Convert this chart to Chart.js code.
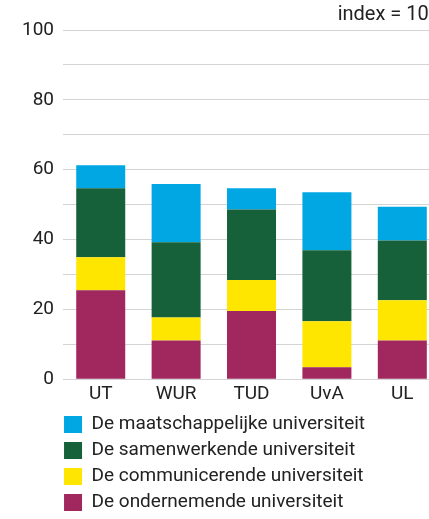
<!DOCTYPE html>
<html lang="nl">
<head>
  <meta charset="UTF-8" />
  <title>Universiteiten index</title>
  <script src="https://cdn.jsdelivr.net/npm/chart.js"></script>
  <style>
    html, body { margin: 0; padding: 0; background: #fff; overflow: hidden; }
    .wrap { width: 429px; height: 519px; overflow: hidden; }
    canvas { display: block; }
  </style>
</head>
<body>
  <div class="wrap">
    <canvas id="uniChart" width="440" height="522"></canvas>
  </div>

  <script>
    const universities = ["UT", "WUR", "TUD", "UvA", "UL"];
    const seriesNames = [
      "De ondernemende universiteit",
      "De communicerende universiteit",
      "De samenwerkende universiteit",
      "De maatschappelijke universiteit"
    ];
    const ondernemend = [25.5, 11.1, 19.5, 3.4, 11.1];
    const communicerend = [9.4, 6.6, 8.9, 13.2, 11.5];
    const samenwerkend = [19.8, 21.5, 20.2, 20.3, 17.1];
    const maatschappelijk = [6.6, 16.7, 6.1, 16.6, 9.7];
    const colors = ["#a0285e", "#ffe600", "#17613a", "#00a7e3"];
    const yTicks = [0, 20, 40, 60, 80, 100];

    const font = "Roboto, sans-serif";

    // legend sits flush with the plot's left edge
    const legendShift = {
      id: 'legendShift',
      afterLayout(chart) {
        const lg = chart.legend;
        lg.left = chart.chartArea.left - lg.options.labels.padding + 1;
      }
    };

    function draw() {
      const ctx = document.getElementById('uniChart').getContext('2d');
      new Chart(ctx, {
        type: 'bar',
        data: {
          labels: universities,
          datasets: [ondernemend, communicerend, samenwerkend, maatschappelijk].map((d, i) => ({
            label: seriesNames[i],
            data: d,
            backgroundColor: colors[i],
            borderWidth: 0,
            barPercentage: 0.65,
            categoryPercentage: 1
          }))
        },
        plugins: [legendShift],
        options: {
          responsive: false,
          animation: false,
          layout: { padding: { left: 13, right: 0, bottom: 0 } },
          plugins: {
            title: {
              display: true,
              text: 'index = 100',
              align: 'end',
              color: '#222',
              font: { family: font, size: 20, weight: 'normal', lineHeight: 1.1 },
              padding: { top: 4, bottom: 4 }
            },
            legend: {
              position: 'bottom',
              align: 'start',
              fullSize: false,
              reverse: true,
              // empty title only adds a gap above the legend rows
              title: { display: true, text: '', font: { size: 6, lineHeight: 1 }, padding: 0 },
              labels: {
                color: '#222',
                font: { family: font, size: 19 },
                boxWidth: 18,
                boxHeight: 17,
                padding: 7
              }
            },
            tooltip: { enabled: false }
          },
          scales: {
            x: {
              stacked: true,
              grid: { display: false },
              border: { display: false },
              ticks: { color: '#222', font: { family: font, size: 19, lineHeight: 0.78 }, padding: 0 }
            },
            y: {
              stacked: true,
              min: 0,
              max: 100,
              grid: { color: '#d4d4d4', lineWidth: 1, drawTicks: false },
              border: { display: false },
              ticks: {
                stepSize: 10,
                color: '#222',
                padding: 9,
                font: { family: font, size: 19 },
                callback: v => yTicks.includes(v) ? v : ''
              }
            }
          }
        }
      });
    }

    document.fonts.load('20px Roboto').then(draw, draw);
  </script>
</body>
</html>
